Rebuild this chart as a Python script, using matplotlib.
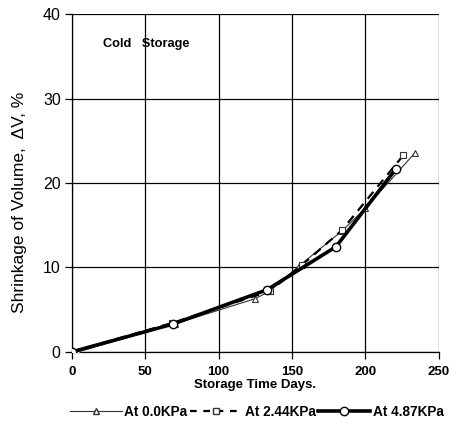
import matplotlib
matplotlib.use("Agg")
import matplotlib.pyplot as plt
from matplotlib.lines import Line2D

plt.rcParams['font.family'] = ['Liberation Sans', 'DejaVu Sans']

# Shrinkage of volume (%) versus storage time (days)
days_0 = [4, 70, 125, 135, 155, 184, 200, 234]
shrink_0 = [0.0, 3.3, 6.3, 7.2, 10.2, 14.3, 17.0, 23.6]

days_244 = [0, 68, 135, 157, 184, 226]
shrink_244 = [0.0, 3.4, 7.2, 10.3, 14.4, 23.3]

days_487 = [0, 69, 133, 180, 221]
shrink_487 = [0.0, 3.3, 7.35, 12.45, 21.7]

labels = ["At 0.0KPa", "At 2.44KPa", "At 4.87KPa"]
xticks = [0, 50, 100, 150, 200, 250]
yticks = [0, 10, 20, 30, 40]

fig = plt.figure(figsize=(4.49, 4.26), dpi=100)
ax = fig.add_axes([0.16, 0.174, 0.817, 0.793])

ax.plot(days_0, shrink_0, color='#333333', lw=0.8, marker='^', ms=5,
        mfc='white', mec='#333333', mew=0.8, zorder=3)
ax.plot(days_244, shrink_244, color='black', lw=1.6, ls=(0, (4, 3)), marker='s',
        ms=5, mfc='white', mec='#333333', mew=0.8, zorder=4)
ax.plot(days_487, shrink_487, color='black', lw=2.6, marker='o', ms=6,
        mfc='white', mec='black', mew=1.0, zorder=5)

ax.set_xlim(0, 250)
ax.set_ylim(0, 40)
ax.set_xticks(xticks)
ax.set_yticks(yticks)
ax.grid(True, color='black', lw=0.9)
ax.set_axisbelow(True)
for s in ['top', 'right']:
    ax.spines[s].set_visible(False)
for s in ['left', 'bottom']:
    ax.spines[s].set_linewidth(0.9)

ax.tick_params(axis='y', direction='out', length=5, width=0.9, labelsize=11.5, pad=3)
ax.tick_params(axis='x', direction='out', length=5, width=0.9, labelsize=9.5, pad=5)
for t in ax.get_xticklabels():
    t.set_fontweight('bold')

ax.set_xlabel("Storage Time Days.", fontsize=9.5, fontweight='bold', labelpad=1)
ax.set_ylabel("Shrinkage of Volume,  ΔV, %", fontsize=12.5)
ax.yaxis.set_label_coords(-0.122, 0.442)

ax.text(0.085, 0.911, "Cold   Storage", transform=ax.transAxes, fontsize=9.2,
        fontweight='bold', va='center', ha='left')

handles = [
    Line2D([], [], color='#333333', lw=0.8, marker='^', ms=5, mfc='white', mec='#333333'),
    Line2D([], [], color='black', lw=1.6, ls=(0, (3, 3)), marker='s', ms=5, mfc='white', mec='#333333'),
    Line2D([], [], color='black', lw=2.6, marker='o', ms=6, mfc='white', mec='black'),
]
leg = fig.legend(handles, labels, loc='center', bbox_to_anchor=(0.572, 0.034), ncol=3,
                 frameon=False, handlelength=3.8, handletextpad=0.2, columnspacing=0.2,
                 prop={'weight': 'bold', 'size': 9.8})

fig.savefig("out.png", dpi=100)
